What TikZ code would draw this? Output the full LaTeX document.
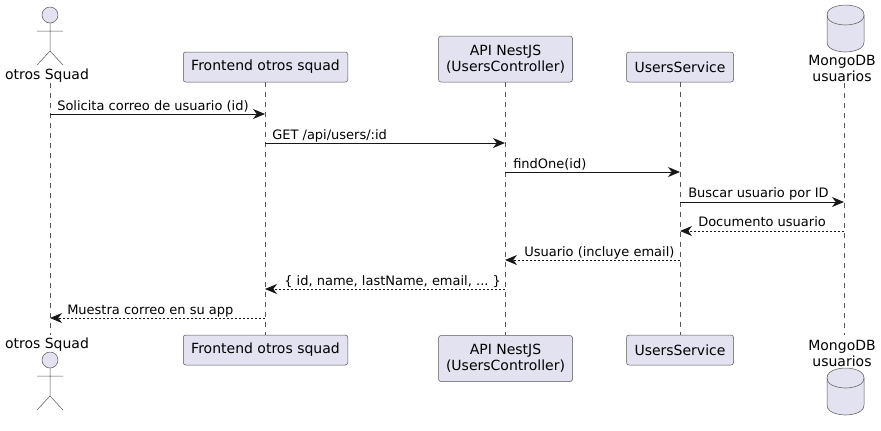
\documentclass[tikz,border=0pt]{standalone}
\usepackage{fontspec}
\setmainfont{DejaVu Sans}
\usetikzlibrary{arrows.meta}
\definecolor{umlfill}{HTML}{E2E2F0}
\definecolor{umlline}{HTML}{181818}
\definecolor{lifegray}{HTML}{555555}
\tikzset{
  x=0.75pt,y=-0.75pt,
  partbox/.style={draw=lifegray,fill=umlfill,line width=0.375pt,rounded corners=1.9pt,inner sep=0pt,align=center,font=\fontsize{10.5}{12}\selectfont},
  parttext/.style={inner sep=0pt,align=center,font=\fontsize{10.5}{12}\selectfont},
  actorline/.style={draw=lifegray,fill=umlfill,line width=0.375pt},
  lifeline/.style={draw=lifegray,line width=0.375pt,dash pattern=on 3.75pt off 3.75pt},
  msg/.style={draw=umlline,line width=0.75pt,-{Stealth[length=9pt,width=7.5pt,inset=2.8pt]}},
  ret/.style={msg,dash pattern=on 1.5pt off 1.5pt},
  msglabel/.style={inner sep=0pt,anchor=base west,font=\fontsize{9.75}{12}\selectfont},
}
\newcommand{\umlactor}[2]{% x, top of head
  \draw[actorline] (#1,#2+8) circle[radius=8*0.75pt];
  \draw[actorline,fill=none] (#1,#2+16) -- (#1,#2+44)
    (#1-13,#2+24) -- (#1+13,#2+24)
    (#1-13,#2+58) -- (#1,#2+44) -- (#1+13,#2+58);
}
\newcommand{\umldb}[2]{% x, top y
  \draw[actorline] (#1-18.5,#2+10) .. controls (#1-18.5,#2) and (#1,#2) .. (#1,#2)
    .. controls (#1,#2) and (#1+18.5,#2) .. (#1+18.5,#2+10)
    -- (#1+18.5,#2+37) .. controls (#1+18.5,#2+47) and (#1,#2+47) .. (#1,#2+47)
    .. controls (#1,#2+47) and (#1-18.5,#2+47) .. (#1-18.5,#2+37) -- cycle;
  \draw[actorline,fill=none] (#1-18.5,#2+10) .. controls (#1-18.5,#2+20) and (#1,#2+20) .. (#1,#2+20)
    .. controls (#1,#2+20) and (#1+18.5,#2+20) .. (#1+18.5,#2+10);
}
\begin{document}
\begin{tikzpicture}
\frenchspacing
\useasboundingbox (0,0) rectangle (881,430);
\coordinate (actT) at (50,83);
\coordinate (actB) at (50,335);
\node[parttext] (actorTopLbl) at (47,76) {otros Squad};
\node[parttext] (actorBotLbl) at (47,345) {otros Squad};
\umlactor{50}{7}
\umlactor{50}{352}
\node[partbox,minimum width=164.5*0.75pt,minimum height=30*0.75pt] (feT) at (265.5,67) {Frontend otros squad};
\node[partbox,minimum width=164.5*0.75pt,minimum height=30*0.75pt] (feB) at (265.5,350) {Frontend otros squad};
\node[partbox,minimum width=134*0.75pt,minimum height=46*0.75pt] (apiT) at (505.5,59) {API NestJS\\(UsersController)};
\node[partbox,minimum width=134*0.75pt,minimum height=46*0.75pt] (apiB) at (505.5,358.5) {API NestJS\\(UsersController)};
\node[partbox,minimum width=107*0.75pt,minimum height=30*0.75pt] (usT) at (680,67) {UsersService};
\node[partbox,minimum width=107*0.75pt,minimum height=30*0.75pt] (usB) at (680,350) {UsersService};
\umldb{845.5}{5}
\umldb{845.5}{368}
\node[parttext] (dbTopLbl) at (842,68) {MongoDB\\usuarios};
\node[parttext] (dbBotLbl) at (842,353) {MongoDB\\usuarios};
\coordinate (dbT) at (844,83);
\coordinate (dbB) at (844,335);
\draw[lifeline] (actT) -- (actB);
\draw[lifeline] (feT) -- (feB);
\draw[lifeline] (apiT) -- (apiB);
\draw[lifeline] (usT) -- (usB);
\draw[lifeline] (dbT) -- (dbB);
\foreach \n/\xa/\ya in {a1/50/114,f1/265/114,f2/265/143,p2/505/143,p3/505/172,u3/680/172,u4/680/202,d4/844/202,d5/844/231,u5/680/231,u6/680/260,p6/505/260,p7/505/289,f7/265/289,f8/265/318,a8/50/318}
  \coordinate (\n) at (\xa,\ya);
\draw[msg] (a1) -- (f1);
\draw[msg] (f2) -- (p2);
\draw[msg] (p3) -- (u3);
\draw[msg] (u4) -- (d4);
\draw[ret] (d5) -- (u5);
\draw[ret] (u6) -- (p6);
\draw[ret] (p7) -- (f7);
\draw[ret] (f8) -- (a8);
\node[msglabel] (t1) at (57,110) {Solicita correo de usuario (id)};
\node[msglabel] (t2) at (272,139) {GET /api/users/:id};
\node[msglabel] (t3) at (513,168) {findOne(id)};
\node[msglabel] (t4) at (688,197.5) {Buscar usuario por ID};
\node[msglabel] (t5) at (698,226.5) {Documento usuario};
\node[msglabel] (t6) at (524,256) {Usuario (incluye email)};
\node[msglabel] (t7) at (284,285) {\{ id, name, lastName, email, ... \}};
\node[msglabel] (t8) at (67,314) {Muestra correo en su app};
\end{tikzpicture}
\end{document}
